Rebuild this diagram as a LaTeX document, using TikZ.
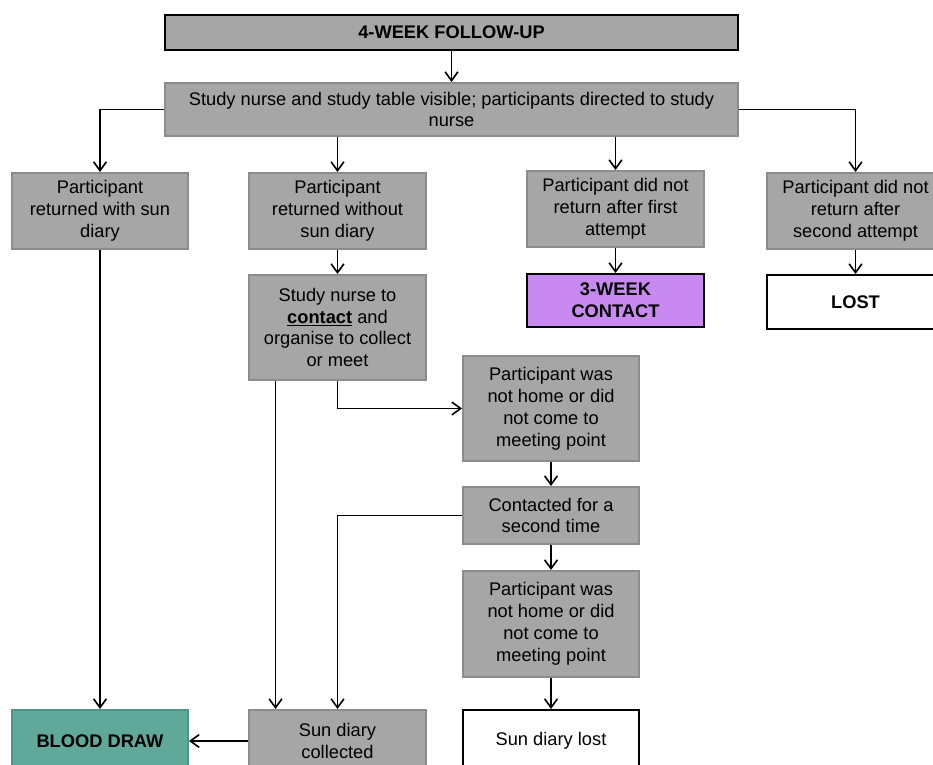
\documentclass[tikz,border=0pt]{standalone}
\usepackage{fontspec}
\setmainfont{Liberation Sans}
\usetikzlibrary{arrows.meta,calc}
\definecolor{BoxGrey}{RGB}{166,166,166}
\definecolor{BoxGreyLine}{RGB}{140,140,140}
\definecolor{ContactLilac}{RGB}{200,137,240}
\definecolor{BloodTeal}{RGB}{95,168,154}
\definecolor{BloodTealLine}{RGB}{78,148,135}

\begin{document}
\begin{tikzpicture}[x=0.25mm, y=-0.25mm,
  wh/.style 2 args={minimum width=#1*0.25mm, minimum height=#2*0.25mm},
  greybox/.style={draw=BoxGreyLine, fill=BoxGrey, line width=0.5mm, align=center, inner sep=0pt, font=\fontsize{13}{15.6}\selectfont},
  keybox/.style={draw=black, line width=0.5mm, align=center, inner sep=0pt, font=\fontsize{13}{15.6}\selectfont\bfseries},
  flow/.style={draw=black, line width=0.4mm, -{Straight Barb[length=2.2mm,width=3.2mm]}}]

\useasboundingbox (0,0) rectangle (933,765); % picture frame

% top of the flow
\node[keybox, fill=BoxGrey, wh={573}{35}] (top) at (451.5,32.5) {4-WEEK FOLLOW-UP};
\node[greybox, wh={573}{53}] (nurse) at (451.5,109.5) {Study nurse and study table visible; participants directed to study\\nurse};

% four outcomes
\node[greybox, wh={176}{76}] (retwith) at (100,211) {Participant\\returned with sun\\diary};
\node[greybox, wh={177}{76}] (retwithout) at (337.5,211) {Participant\\returned without\\sun diary};
\node[greybox, wh={177}{76}] (nofirst) at (615.5,209) {Participant did not\\return after first\\attempt};
\node[greybox, wh={177}{76}] (nosecond) at (855.5,211) {Participant did not\\return after\\second attempt};

\node[keybox, fill=ContactLilac, wh={177}{53}] (threeweek) at (615.5,300.5) {3-WEEK\\CONTACT};
\node[keybox, fill=white, wh={177}{54}] (lost) at (855.5,302) {LOST};

% contact branch
\node[greybox, wh={177}{105}] (callnurse) at (337.5,327.5) {Study nurse to\\\underline{\textbf{contact}} and\\organise to collect\\or meet};
\node[greybox, wh={176}{105}] (nothomeA) at (551,408.5) {Participant was\\not home or did\\not come to\\meeting point};
\node[greybox, wh={176}{57}] (second) at (551,515.5) {Contacted for a\\second time};
\node[greybox, wh={176}{106}] (nothomeB) at (551,624) {Participant was\\not home or did\\not come to\\meeting point};

% bottom row
\node[keybox, fill=white, font=\fontsize{13}{15.6}\selectfont, wh={176}{62}] (diarylost) at (551,741) {Sun diary lost};
\node[greybox, wh={177}{62}] (collected) at (337.5,741) {Sun diary\\collected};
\node[keybox, draw=BloodTealLine, fill=BloodTeal, wh={176}{62}] (blood) at (100,741) {BLOOD DRAW};

% connectors
\draw[flow] (top) -- (nurse);
\draw[flow] (nurse.west) -| (retwith.north);
\draw[flow] (nurse.south -| retwithout.north) -- (retwithout.north);
\draw[flow] (nurse.south -| nofirst.north) -- (nofirst.north);
\draw[flow] (nurse.east) -| (nosecond.north);
\draw[flow] (nofirst) -- (threeweek);
\draw[flow] (nosecond) -- (lost);
\draw[flow] (retwithout) -- (callnurse);
\draw[flow] (callnurse.south) |- (nothomeA.west);
\draw[flow] ($(callnurse.south)+(-62,0)$) -- ($(collected.north)+(-62,0)$);
\draw[flow] (nothomeA) -- (second);
\draw[flow] (second) -- (nothomeB);
\draw[flow] (nothomeB) -- (diarylost);
\draw[flow] (second.west) -| (collected.north);
\draw[flow] (collected) -- (blood);
\draw[flow] (retwith) -- (blood);

\end{tikzpicture}
\end{document}
